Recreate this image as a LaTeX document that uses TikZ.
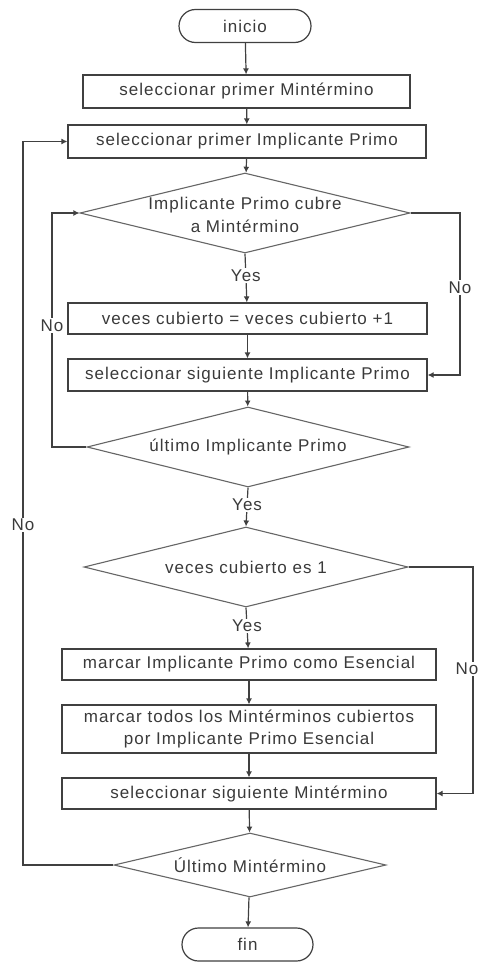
\documentclass[tikz,border=0pt]{standalone}
\usepackage{fontspec}
\setmainfont[LetterSpace=6]{Liberation Sans}
\usetikzlibrary{shapes.geometric,shapes.misc,arrows.meta}
\definecolor{ink}{HTML}{404040}
\definecolor{txt}{HTML}{3a3a3a}
\tikzset{
  every node/.style={text=txt, font=\fontsize{17}{22.5}\selectfont},
  procbox/.style={draw=ink, line width=1.2pt, rectangle, inner sep=0pt, align=center},
  term/.style={draw=ink, line width=1.2pt, rounded rectangle, inner sep=0pt},
  decision/.style={draw=ink!80, line width=1.1pt, diamond, inner sep=0pt},
  flow/.style={draw=ink, line width=1.2pt, -{Latex[length=6pt,width=6pt]}},
  lbl/.style={fill=white, inner sep=1.5pt},
}
\begin{document}
\begin{tikzpicture}[x=1pt, y=-1pt]
\useasboundingbox[fill=white] (0,0) rectangle (482,963);

% terminals and process steps
\node[term, minimum width=132pt, minimum height=33pt] (ini) at (245,26) {inicio};
\node[procbox, minimum width=327pt, minimum height=33pt] (b1) at (246.5,91.5) {seleccionar primer Mintérmino};
\node[procbox, minimum width=358pt, minimum height=33pt] (b2) at (247,141.5) {seleccionar primer Implicante Primo};

\node[decision, minimum width=330pt, minimum height=80pt] (d1) at (245,213) {};
\node[align=center] (t1) at ([yshift=-2pt]d1.center) {Implicante Primo cubre\\a Mintérmino};

\node[procbox, minimum width=359pt, minimum height=31pt] (b3) at (247.5,318.5) {veces cubierto = veces cubierto +1};
\node[procbox, minimum width=359pt, minimum height=32pt] (b4) at (247.5,375) {seleccionar siguiente Implicante Primo};

\node[decision, minimum width=322pt, minimum height=80pt] (d2) at (248,447) {};
\node (t2) at (d2.center) {último Implicante Primo};

\node[decision, minimum width=324pt, minimum height=80pt] (d3) at (246,567) {};
\node (t3) at (d3.center) {veces cubierto es 1};

\node[procbox, minimum width=374pt, minimum height=31pt] (b5) at (249,664.5) {marcar Implicante Primo como Esencial};
\node[procbox, minimum width=374pt, minimum height=48pt] (b6) at (249,729) {marcar todos los Mintérminos cubiertos\\por Implicante Primo Esencial};
\node[procbox, minimum width=374pt, minimum height=31pt] (b7) at (249,793.5) {seleccionar siguiente Mintérmino};

\node[decision, minimum width=272pt, minimum height=64pt] (d4) at (250,865) {};
\node (t4) at (d4.center) {Último Mintérmino};

\node[term, minimum width=131pt, minimum height=33pt] (fin) at (247.5,944.5) {fin};

% bend points of the return paths
\coordinate (r1a) at (460,213);
\coordinate (r1b) at (460,375);
\coordinate (l2a) at (52,447);
\coordinate (l2b) at (52,213);
\coordinate (r3a) at (473,567);
\coordinate (r3b) at (473,793.5);
\coordinate (l4a) at (23,865);
\coordinate (l4b) at (23,141.5);

% main flow
\draw[flow] (ini) -- (b1);
\draw[flow] (b1) -- (b2);
\draw[flow] (b2) -- (d1);
\draw[flow] (d1.south) -- node[lbl, pos=0.45] {Yes} (b3);
\draw[flow] (b3) -- (b4);
\draw[flow] (b4) -- (d2);
\draw[flow] (d2.south) -- node[lbl, pos=0.45] {Yes} (d3.north);
\draw[flow] (d3.south) -- node[lbl, pos=0.45] {Yes} (b5);
\draw[flow] (b5) -- (b6);
\draw[flow] (b6) -- (b7);
\draw[flow] (b7) -- (d4);
\draw[flow] (d4) -- (fin);

% return paths
\draw[flow] (d1.east) -- (r1a) -- node[lbl, pos=0.46] {No} (r1b) -- (b4.east);
\draw[flow] (d2.west) -- (l2a) -- node[lbl, pos=0.52] {No} (l2b) -- (d1.west);
\draw[flow] (d3.east) -- (r3a) -- node[lbl, pos=0.45, xshift=-6pt, inner sep=1pt] {No} (r3b) -- (b7.east);
\draw[flow] (d4.west) -- (l4a) -- node[lbl, pos=0.47] {No} (l4b) -- (b2.west);
\end{tikzpicture}
\end{document}
